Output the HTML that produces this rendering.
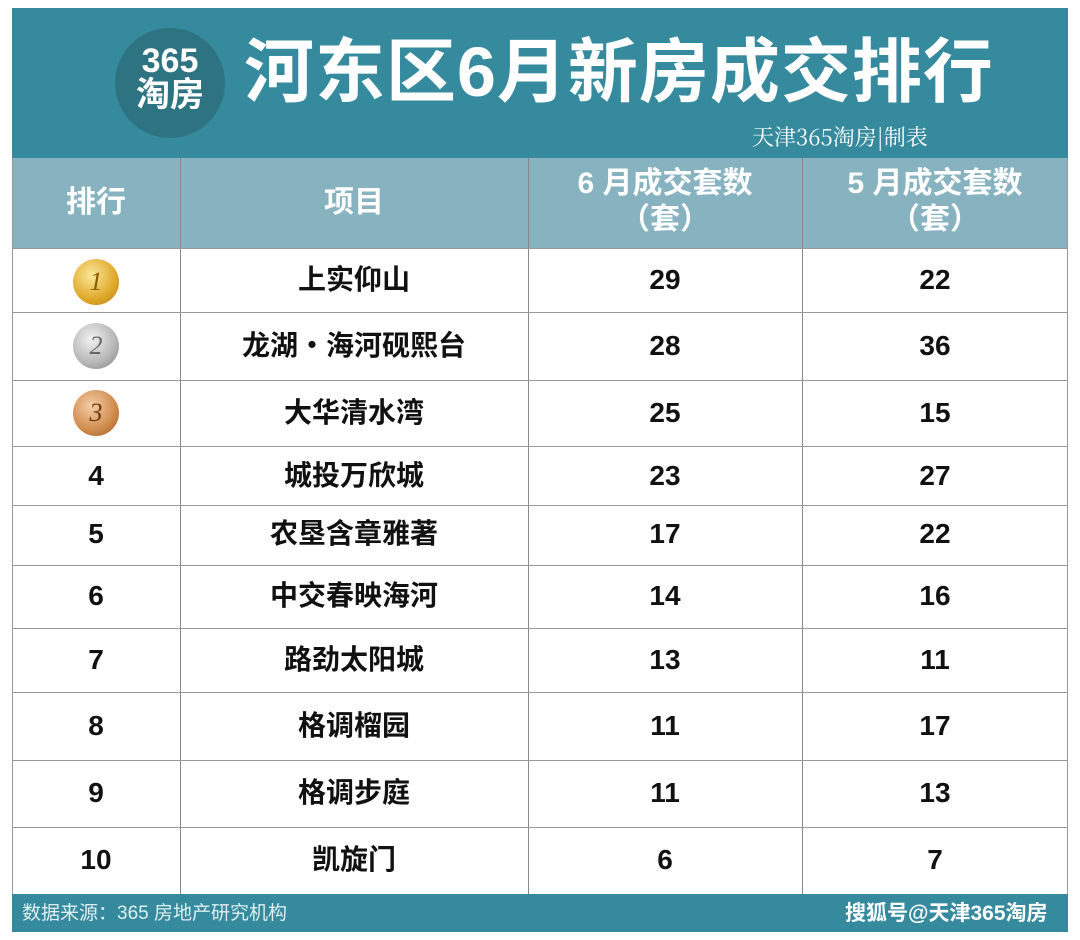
<!DOCTYPE html>
<html><head><meta charset="utf-8"><style>
*{margin:0;padding:0;box-sizing:border-box}
body{width:1080px;height:940px;background:#fff;position:relative;overflow:hidden;font-family:"Liberation Sans","Noto Sans CJK SC",sans-serif}
.abs{position:absolute}
.hdr{left:12px;top:8px;width:1056px;height:150px;background:#358a9e}
.logo{left:115px;top:28px;width:110px;height:110px;border-radius:50%;background:#2e7381;color:#fff;font-weight:bold;text-align:center;line-height:34px;font-size:34px;padding-top:16px}
.title{left:244px;top:30px;font-size:70px;font-weight:bold;color:#fff;letter-spacing:1px;line-height:84px;height:84px}
.sub{left:752px;top:122px;font-size:22px;line-height:30px;color:#fff;font-family:"Noto Serif CJK SC",serif}
.colh{left:12px;top:158px;width:1056px;height:90px;background:#86b3bf}
.ch{color:#fff;font-weight:bold;font-size:30px;text-align:center;line-height:36px}
.vl{width:1px;background:#888;top:158px;height:736px}
.hl{left:12px;width:1056px;height:1px;background:#999}
.cell{text-align:center;font-size:28px;font-weight:bold;color:#111;line-height:32px;height:32px}
.foot{left:12px;top:894px;width:1056px;height:38px;background:#358a9e;color:#e8f2f4}
.medal{width:46px;height:46px;border-radius:50%;font-style:italic;font-family:"Liberation Serif",serif;font-size:26px;text-align:center;line-height:46px}
</style></head><body>
<div class="abs hdr"></div>
<div class="abs logo">365<br>淘房</div>
<div class="abs title">河东区6月新房成交排行</div>
<div class="abs sub">天津365淘房|制表</div>
<div class="abs colh"></div>
<div class="abs ch" style="left:12px;width:168px;top:185px">排行</div>
<div class="abs ch" style="left:180px;width:348px;top:185px">项目</div>
<div class="abs ch" style="left:528px;width:274px;top:166px">6 月成交套数<br>（套）</div>
<div class="abs ch" style="left:802px;width:266px;top:166px">5 月成交套数<br>（套）</div>
<div class="abs" style="left:12px;top:158px;width:1056px;height:736px;border-left:1px solid #999;border-right:1px solid #999"></div>
<div class="abs vl" style="left:180px"></div>
<div class="abs vl" style="left:528px"></div>
<div class="abs vl" style="left:802px"></div>
<div class="abs hl" style="top:248px"></div>
<div class="abs hl" style="top:312px"></div>
<div class="abs hl" style="top:380px"></div>
<div class="abs hl" style="top:446px"></div>
<div class="abs hl" style="top:505px"></div>
<div class="abs hl" style="top:565px"></div>
<div class="abs hl" style="top:628px"></div>
<div class="abs hl" style="top:692px"></div>
<div class="abs hl" style="top:760px"></div>
<div class="abs hl" style="top:827px"></div>

<div class="abs medal" style="left:73px;top:259px;background:radial-gradient(circle at 40% 35%,#fbe89a,#e0a82a 60%,#b67b10);color:#8a5a00">1</div>
<div class="abs medal" style="left:73px;top:323px;background:radial-gradient(circle at 40% 35%,#f2f2f2,#b5b5b5 60%,#7d7d7d);color:#666">2</div>
<div class="abs medal" style="left:73px;top:390px;background:radial-gradient(circle at 40% 35%,#f5cfa8,#cf8a4c 60%,#9a5a25);color:#6d3a10">3</div>

<div class="abs cell" style="left:180px;width:348px;top:264px">上实仰山</div>
<div class="abs cell" style="left:528px;width:274px;top:264px">29</div>
<div class="abs cell" style="left:802px;width:266px;top:264px">22</div>
<div class="abs cell" style="left:180px;width:348px;top:330px">龙湖・海河砚熙台</div>
<div class="abs cell" style="left:528px;width:274px;top:330px">28</div>
<div class="abs cell" style="left:802px;width:266px;top:330px">36</div>
<div class="abs cell" style="left:180px;width:348px;top:397px">大华清水湾</div>
<div class="abs cell" style="left:528px;width:274px;top:397px">25</div>
<div class="abs cell" style="left:802px;width:266px;top:397px">15</div>
<div class="abs cell" style="left:12px;width:168px;top:460px">4</div>
<div class="abs cell" style="left:180px;width:348px;top:460px">城投万欣城</div>
<div class="abs cell" style="left:528px;width:274px;top:460px">23</div>
<div class="abs cell" style="left:802px;width:266px;top:460px">27</div>
<div class="abs cell" style="left:12px;width:168px;top:518px">5</div>
<div class="abs cell" style="left:180px;width:348px;top:518px">农垦含章雅著</div>
<div class="abs cell" style="left:528px;width:274px;top:518px">17</div>
<div class="abs cell" style="left:802px;width:266px;top:518px">22</div>
<div class="abs cell" style="left:12px;width:168px;top:580px">6</div>
<div class="abs cell" style="left:180px;width:348px;top:580px">中交春映海河</div>
<div class="abs cell" style="left:528px;width:274px;top:580px">14</div>
<div class="abs cell" style="left:802px;width:266px;top:580px">16</div>
<div class="abs cell" style="left:12px;width:168px;top:644px">7</div>
<div class="abs cell" style="left:180px;width:348px;top:644px">路劲太阳城</div>
<div class="abs cell" style="left:528px;width:274px;top:644px">13</div>
<div class="abs cell" style="left:802px;width:266px;top:644px">11</div>
<div class="abs cell" style="left:12px;width:168px;top:710px">8</div>
<div class="abs cell" style="left:180px;width:348px;top:710px">格调榴园</div>
<div class="abs cell" style="left:528px;width:274px;top:710px">11</div>
<div class="abs cell" style="left:802px;width:266px;top:710px">17</div>
<div class="abs cell" style="left:12px;width:168px;top:777px">9</div>
<div class="abs cell" style="left:180px;width:348px;top:777px">格调步庭</div>
<div class="abs cell" style="left:528px;width:274px;top:777px">11</div>
<div class="abs cell" style="left:802px;width:266px;top:777px">13</div>
<div class="abs cell" style="left:12px;width:168px;top:844px">10</div>
<div class="abs cell" style="left:180px;width:348px;top:844px">凯旋门</div>
<div class="abs cell" style="left:528px;width:274px;top:844px">6</div>
<div class="abs cell" style="left:802px;width:266px;top:844px">7</div>

<div class="abs foot"></div>
<div class="abs" style="left:22px;top:902px;font-size:19px;line-height:24px;color:#dfeef1">数据来源：365 房地产研究机构</div>
<div class="abs" style="left:845px;top:901px;font-size:21px;line-height:26px;font-weight:bold;color:#fff">搜狐号@天津365淘房</div>
</body></html>
